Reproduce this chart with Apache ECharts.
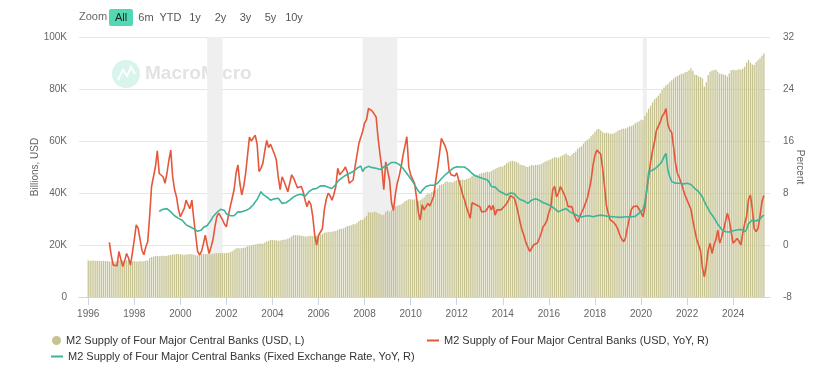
<!DOCTYPE html>
<html><head><meta charset="utf-8">
<script src="https://cdn.jsdelivr.net/npm/echarts@6/dist/echarts.min.js"></script>
<style>html,body{margin:0;padding:0;background:#fff}#c{width:825px;height:381px}</style>
</head><body><div id="c"></div>
<script>
// Monthly series, first month = Jan 1996
const startYear = 1996;
const seriesNames = [
  'M2 Supply of Four Major Central Banks (USD, L)',
  'M2 Supply of Four Major Central Banks (USD, YoY, R)',
  'M2 Supply of Four Major Central Banks (Fixed Exchange Rate, YoY, R)'
];
const xTickYears = [1996,1998,2000,2002,2004,2006,2008,2010,2012,2014,2016,2018,2020,2022,2024];
const leftTicks = [0,20,40,60,80,100];       // thousand billions USD
const rightTicks = [-8,0,8,16,24,32];        // percent
const recessions = [[2001,3,2001,11],[2007,12,2009,6],[2020,2,2020,4]];
const rangeButtons = ['All','6m','YTD','1y','2y','3y','5y','10y'];

// M2 level, thousands of billions USD (K)
const m2Level = [
 14.0,13.9,13.9,14.0,13.8,13.9,13.9,13.8,13.9,13.8,13.8,13.7, // 1996
 13.6,13.7,13.6,13.8,14.0,14.1,14.0,13.9,14.1,14.0,13.8,13.7, // 1997
 13.8,13.7,13.7,13.8,13.7,13.8,13.9,14.0,15.0,15.4,15.5,15.8, // 1998
 15.8,15.7,15.8,15.9,15.8,15.9,16.1,16.2,16.3,16.4,16.5,16.5, // 1999
 16.4,16.3,16.2,16.3,16.4,16.5,16.4,16.3,16.1,16.0,16.3,16.6, // 2000
 16.6,16.5,16.4,16.5,16.4,16.6,16.7,16.9,16.9,16.8,16.9,16.8, // 2001
 16.9,17.0,17.2,17.6,18.2,18.7,18.8,18.7,18.8,18.9,19.1,19.6, // 2002
 19.7,19.9,20.1,20.2,20.4,20.6,20.6,20.5,21.0,21.3,21.6,22.0, // 2003
 21.9,21.8,21.8,21.6,21.7,21.9,22.0,22.1,22.4,22.8,23.4,23.8, // 2004
 23.8,23.7,23.7,23.6,23.5,23.3,23.3,23.5,23.6,23.5,23.4,23.6, // 2005
 23.7,24.0,24.2,24.6,24.9,24.9,25.1,25.1,25.3,25.4,25.8,26.2, // 2006
 26.2,26.4,26.8,27.3,27.4,27.6,28.0,28.0,28.5,29.2,29.6,29.7, // 2007
 30.4,31.2,32.6,32.6,32.5,32.8,32.7,32.2,32.0,31.5,31.6,32.8, // 2008
 33.2,32.8,33.5,34.0,34.8,35.0,35.4,35.6,36.2,36.8,37.2,37.6, // 2009
 37.6,37.4,37.6,37.8,37.0,37.2,37.8,38.4,39.2,39.8,39.6,40.4, // 2010
 40.8,41.2,41.8,43.0,43.2,43.6,44.2,44.4,44.0,44.2,44.0,44.6, // 2011
 45.0,45.2,45.0,45.2,45.0,45.3,45.6,46.0,46.6,46.9,46.8,47.0, // 2012
 47.4,47.6,47.8,48.0,48.2,48.0,48.4,48.8,49.2,49.6,50.0,50.2, // 2013
 50.2,50.8,51.4,51.8,52.2,52.4,52.2,52.0,51.6,51.0,50.8,50.6, // 2014
 50.2,50.0,50.4,50.8,50.6,50.8,50.8,51.0,51.2,51.6,52.0,52.4, // 2015
 52.6,53.0,53.4,53.8,53.6,53.6,54.0,54.4,54.8,55.2,54.6,54.2, // 2016
 54.8,55.4,56.0,57.0,57.6,58.0,59.0,59.8,60.4,61.0,61.8,62.6, // 2017
 63.6,64.4,64.6,64.0,63.4,63.0,63.2,63.0,62.8,62.8,63.0,63.4, // 2018
 64.0,64.2,64.6,64.8,64.8,65.2,65.6,65.8,66.2,66.8,67.2,67.6, // 2019
 68.2,68.0,69.6,71.0,72.4,73.6,74.8,76.0,76.6,77.4,78.4,79.6, // 2020
 80.6,81.4,81.8,82.8,83.4,84.0,84.6,85.0,85.4,85.8,86.0,86.4, // 2021
 86.6,87.2,88.0,87.0,85.6,85.4,84.8,84.6,84.0,80.9,82.6,85.4, // 2022
 86.6,87.0,87.3,87.4,86.6,86.0,85.8,85.6,85.4,84.8,86.0,87.2, // 2023
 87.4,87.2,87.3,87.6,87.4,87.8,88.6,90.2,91.2,90.2,89.4,89.2, // 2024
 90.4,91.2,91.8,92.8,93.7                                      // 2025
];

// USD YoY, percent
const usdYoY = [
 null,null,null,null,null,null,null,null,null,null,null,0.4,  // 1996
 -1.6,-3.1,-3.4,-3.2,-1.0,-2.2,-3.3,-2.4,-1.3,-2.0,-3.1,-1.2, // 1997
 0.8,3.1,2.6,2.9,-0.8,-1.5,-0.3,0.5,4.4,9.0,9.2,12.0,         // 1998
 14.5,11.0,11.2,10.5,9.5,11.0,13.0,14.6,10.5,8.5,7.4,5.5,     // 1999
 4.35,5.0,5.6,6.9,6.2,5.6,6.9,4.0,1.5,-1.0,-1.5,-1.0,         // 2000
 0.2,1.5,0.0,-1.3,-0.3,0.8,2.8,4.35,4.9,4.6,3.85,3.2,         // 2001
 2.8,4.5,5.9,7.2,8.5,11.0,12.3,9.5,7.7,9.0,11.0,13.8,         // 2002
 16.6,16.0,16.1,16.9,15.5,11.3,11.8,12.6,14.5,16.1,15.0,15.5, // 2003
 15.2,14.0,13.1,10.5,8.5,10.5,9.8,9.0,8.2,9.5,10.8,10.3,      // 2004
 10.0,8.8,8.5,9.0,8.2,6.9,5.9,6.8,6.2,4.35,1.5,0.0,           // 2005
 1.5,1.4,2.5,5.4,7.0,7.95,7.6,6.9,7.8,9.0,11.8,10.8,          // 2006
 10.5,11.5,12.0,11.2,9.5,9.6,10.0,12.0,13.8,15.6,15.8,17.5,   // 2007
 18.8,19.3,21.0,20.8,20.6,20.3,19.7,16.5,14.0,11.8,8.5,12.8,  // 2008
 13.0,10.0,6.5,5.3,7.8,9.5,10.6,12.0,13.8,15.2,16.65,12.0,    // 2009
 10.8,10.5,9.5,7.4,5.0,3.85,6.2,5.4,5.6,6.4,6.0,5.9,          // 2010
 7.5,9.8,11.8,14.0,16.4,15.8,15.2,14.2,11.5,10.8,10.8,10.6,   // 2011
 11.1,10.0,9.0,7.8,7.0,5.9,5.0,4.1,6.5,6.4,6.2,6.3,           // 2012
 5.9,5.1,5.1,5.2,5.4,6.1,5.4,6.1,4.6,5.4,5.6,5.4,             // 2013
 5.6,6.0,6.4,6.9,7.6,7.5,7.2,6.2,4.9,3.5,2.3,1.5,             // 2014
 0.4,-0.3,-1.0,-0.5,0.0,0.1,0.3,1.0,1.8,2.8,3.2,3.8,          // 2015
 5.0,5.8,8.5,9.0,7.4,8.0,9.0,9.0,7.8,7.0,5.9,5.9,             // 2016
 5.9,4.8,4.1,3.5,3.6,5.0,5.6,6.4,7.2,8.5,10.0,12.3,           // 2017
 13.8,14.6,14.4,14.0,11.8,9.0,6.0,4.8,3.85,3.7,3.4,3.0,       // 2018
 2.4,1.5,0.9,0.5,1.2,2.8,4.2,5.5,5.9,6.15,6.0,5.5,            // 2019
 5.0,4.35,5.8,8.5,10.5,12.8,14.5,15.8,17.6,17.7,18.9,19.8,    // 2020
 20.2,21.0,18.5,17.7,17.3,15.0,12.5,11.0,10.3,9.5,8.5,7.6,    // 2021
 6.9,7.0,5.5,3.8,2.3,0.9,0.0,-0.9,-3.5,-4.9,-3.2,-0.8,        // 2022
 0.26,-1.3,0.0,0.8,2.3,0.3,1.2,2.3,3.6,4.9,3.8,2.0,           // 2023
 0.26,0.6,1.0,0.6,0.0,1.8,3.3,4.35,7.0,7.7,5.5,2.5,           // 2024
 2.05,2.6,4.5,6.6,7.6                                         // 2025
];

// Fixed exchange rate YoY, percent
const fxYoY = [
 null,null,null,null,null,null,null,null,null,null,null,null, // 1996
 null,null,null,null,null,null,null,null,null,null,null,null, // 1997
 null,null,null,null,null,null,null,null,null,null,null,null, // 1998
 null,5.2,5.3,5.5,5.6,5.6,5.4,5.1,4.8,4.5,4.35,4.1,           // 1999
 4.0,3.8,3.5,3.1,3.0,2.8,2.7,2.5,2.3,2.1,1.95,2.3,            // 2000
 2.7,2.9,3.0,3.3,3.8,4.35,4.6,5.0,5.2,5.5,5.8,5.3,            // 2001
 4.8,4.6,4.5,4.4,4.5,4.8,5.1,4.9,5.1,5.0,5.3,5.4,             // 2002
 5.6,5.9,6.2,6.6,7.0,7.6,8.2,7.8,7.5,7.4,7.1,6.9,             // 2003
 7.0,7.1,7.2,7.2,6.8,6.4,6.15,6.5,6.8,6.9,7.1,7.4,            // 2004
 7.5,7.7,7.9,7.8,7.6,7.5,7.8,8.2,8.5,8.6,8.7,8.7,             // 2005
 8.9,9.1,9.2,9.1,9.0,8.9,8.8,8.7,8.9,9.3,9.8,10.1,            // 2006
 10.3,10.5,10.7,10.9,11.0,11.2,11.3,11.5,11.8,12.0,12.15,11.3,// 2007
 11.8,12.0,12.1,12.0,11.9,11.9,11.8,11.7,11.6,11.8,12.0,12.2, // 2008
 12.3,12.5,12.7,12.8,12.7,12.6,12.4,12.1,11.8,11.4,11.0,10.6, // 2009
 10.2,9.8,9.3,8.8,8.3,7.95,8.4,8.7,9.0,9.2,9.2,9.2,           // 2010
 9.2,9.3,9.5,9.8,10.2,10.5,10.8,11.0,11.3,11.5,11.8,12.0,     // 2011
 12.05,12.1,12.0,12.05,12.0,11.8,11.6,11.5,11.0,10.8,10.6,10.5,// 2012
 10.4,10.3,10.2,10.1,10.0,9.6,9.0,9.0,8.9,8.6,8.3,8.2,        // 2013
 8.0,7.9,7.7,7.8,8.0,8.2,7.9,7.5,7.2,7.0,6.9,6.8,             // 2014
 6.6,6.4,6.6,6.9,7.2,7.1,7.0,6.9,6.8,6.5,6.4,6.3,             // 2015
 6.1,6.0,5.9,5.6,5.3,5.1,5.2,5.4,5.5,5.6,5.4,5.1,             // 2016
 4.9,4.8,4.6,4.5,4.35,4.3,4.4,4.45,4.4,4.5,4.4,4.35,          // 2017
 4.4,4.5,4.6,4.6,4.5,4.5,4.45,4.4,4.4,4.35,4.35,4.3,          // 2018
 4.3,4.25,4.25,4.3,4.3,4.35,4.4,4.35,4.35,4.4,4.6,4.9,        // 2019
 5.1,5.4,6.5,8.5,11.3,11.5,11.5,11.6,11.9,12.1,12.5,12.9,     // 2020
 13.6,14.1,11.5,10.5,9.75,9.6,9.5,9.5,9.5,9.4,9.4,9.4,        // 2021
 9.5,9.5,9.3,9.0,8.7,8.4,8.2,7.95,7.4,6.7,6.1,5.6,            // 2022
 5.0,4.6,4.2,3.7,3.2,2.8,2.4,2.2,2.05,2.05,2.0,2.05,          // 2023
 2.2,2.3,2.3,2.3,2.4,2.2,2.05,2.4,3.3,3.6,3.85,3.9,           // 2024
 3.7,3.6,4.0,4.35,4.6                                         // 2025
];

const monthX = i => startYear + i / 12;
const toPairs = arr => arr.map((v, i) => [monthX(i), v]).filter(p => p[1] !== null);
const ym = (y, m) => y + (m - 1) / 12;

const FONT = '"Liberation Sans", Arial, sans-serif';
const BAR = '#c6c391';
const RED = '#e5573a';
const GREEN = '#3db49a';

const chart = echarts.init(document.getElementById('c'), null, {renderer: 'canvas'});

const graphics = [
  {type: 'text', left: 79, top: 11, style: {text: 'Zoom', font: '11px ' + FONT, fill: '#666'}},
  {type: 'rect', shape: {x: 109, y: 9, width: 24, height: 17, r: 2}, style: {fill: '#54d8b4'}},
  {type: 'circle', shape: {cx: 126, cy: 74, r: 14}, style: {fill: '#d9f4ec'}, z: -1},
  {type: 'polyline', shape: {points: [[118, 80], [123, 70], [127, 76], [131, 67], [135, 74]]}, style: {stroke: '#fff', lineWidth: 2, fill: null}, z: -1},
  {type: 'text', x: 145, y: 74, style: {text: 'MacroMicro', font: '600 19px ' + FONT, fill: '#e3e3e3', verticalAlign: 'middle'}, z: -1}
];
const btnCenters = [121, 146, 170.5, 195, 220.5, 245.5, 270.5, 294];
rangeButtons.forEach((t, k) => {
  graphics.push({type: 'text', x: btnCenters[k], y: 17.5,
    style: {text: t, font: '11px ' + FONT, fill: k === 0 ? '#222' : '#555', align: 'center', verticalAlign: 'middle'}});
});

const legendBase = {orient: 'horizontal', padding: 0, itemGap: 0, selectedMode: false,
  textStyle: {fontFamily: FONT, fontSize: 11, color: '#333'}};

chart.setOption({
  animation: false,
  backgroundColor: '#fff',
  grid: {left: 79, right: 55, top: 37, bottom: 84, containLabel: false},
  graphic: graphics,
  legend: [
    Object.assign({}, legendBase, {left: 52, top: 335, data: [{name: seriesNames[0], icon: 'circle'}], itemWidth: 9, itemHeight: 9}),
    Object.assign({}, legendBase, {left: 427, top: 335, data: [{name: seriesNames[1], icon: 'rect'}], itemWidth: 12, itemHeight: 2}),
    Object.assign({}, legendBase, {left: 51, top: 351, data: [{name: seriesNames[2], icon: 'rect'}], itemWidth: 12, itemHeight: 2})
  ],
  xAxis: {
    type: 'value', min: 1995.6, max: 2025.6,
    axisLine: {show: true, lineStyle: {color: '#ccd6eb'}},
    axisTick: {show: true, length: 8, lineStyle: {color: '#ccd6eb'}, customValues: xTickYears},
    axisLabel: {customValues: xTickYears, formatter: v => String(Math.round(v)), color: '#666', fontSize: 10, fontFamily: FONT, margin: 12},
    splitLine: {show: false}
  },
  yAxis: [
    {type: 'value', min: leftTicks[0], max: leftTicks[leftTicks.length - 1], interval: 20, position: 'left',
     name: 'Billions, USD', nameLocation: 'middle', nameGap: 39, nameRotate: 90, nameMoveOverlap: false,
     nameTextStyle: {color: '#666', fontSize: 10, fontFamily: FONT},
     axisLine: {show: false}, axisTick: {show: false},
     axisLabel: {formatter: v => v === 0 ? '0' : v + 'K', color: '#666', fontSize: 10, fontFamily: FONT, margin: 12},
     splitLine: {show: true, lineStyle: {color: '#e6e6e6'}}},
    {type: 'value', min: rightTicks[0], max: rightTicks[rightTicks.length - 1], interval: 8, position: 'right',
     name: 'Percent', nameLocation: 'middle', nameGap: 25, nameRotate: -90, nameMoveOverlap: false,
     nameTextStyle: {color: '#666', fontSize: 10, fontFamily: FONT},
     axisLine: {show: false}, axisTick: {show: false},
     axisLabel: {color: '#666', fontSize: 10, fontFamily: FONT, margin: 13},
     splitLine: {show: false}}
  ],
  series: [
    {type: 'custom', name: '_recession', yAxisIndex: 0, z: 0, silent: true,
     data: recessions.map(r => [ym(r[0], r[1]), ym(r[2], r[3])]),
     encode: {x: [0, 1]},
     renderItem: (params, api) => {
       const x0 = api.coord([api.value(0), 0])[0];
       const x1 = api.coord([api.value(1), 0])[0];
       const cs = params.coordSys;
       return {type: 'rect', shape: {x: x0, y: cs.y, width: x1 - x0, height: cs.height}, style: {fill: '#efefef'}};
     }},
    {type: 'bar', name: seriesNames[0], data: toPairs(m2Level), yAxisIndex: 0, barWidth: 1.3, z: 2,
     itemStyle: {color: BAR}},
    {type: 'line', name: seriesNames[1], data: toPairs(usdYoY), yAxisIndex: 1, showSymbol: false, z: 3,
     lineStyle: {color: RED, width: 1.6}, itemStyle: {color: RED}},
    {type: 'line', name: seriesNames[2], data: toPairs(fxYoY), yAxisIndex: 1, showSymbol: false, z: 4,
     lineStyle: {color: GREEN, width: 1.6}, itemStyle: {color: GREEN}}
  ]
});
</script></body></html>
